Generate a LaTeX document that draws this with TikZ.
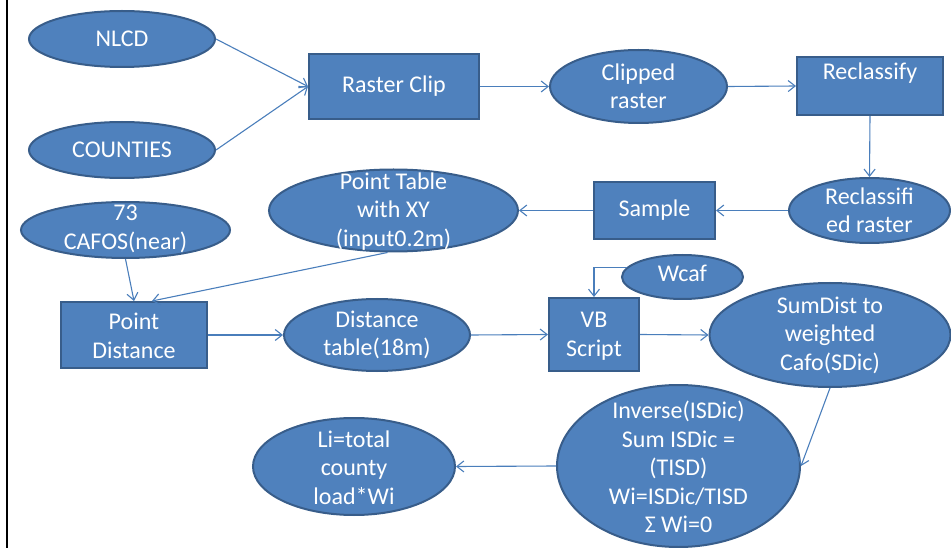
\documentclass[tikz,border=0pt]{standalone}
\usepackage{fontspec}
\setmainfont{Carlito}
\usetikzlibrary{arrows.meta,shapes.geometric}
\definecolor{boxfill}{HTML}{4F81BD}
\definecolor{boxline}{HTML}{385D8A}
\definecolor{arrowc}{HTML}{4A7EBB}
\begin{document}
\begin{tikzpicture}[x=1pt,y=-1pt,
  shp/.style={fill=boxfill,draw=boxline,line width=2pt,inner sep=0pt},
  ell/.style={shp,ellipse},
  box/.style={shp,rectangle},
  txt/.style={text=white,align=center,inner sep=0pt,font=\fontsize{24}{28.5}\selectfont},
  arr/.style={draw=arrowc,line width=1.1pt,-{Straight Barb[length=7pt,width=11pt]}}]
\useasboundingbox (0,0) rectangle (951,548);
\draw[line width=2.5pt] (7,0) -- (7,548);
% shapes
\node[ell,minimum width=186pt,minimum height=56pt] (nlcd) at (122,39) {};
\node[ell,minimum width=186pt,minimum height=56pt] (counties) at (122,150) {};
\node[box,minimum width=170pt,minimum height=65pt] (rclip) at (394,86.5) {};
\node[ell,minimum width=177pt,minimum height=73pt] (clipped) at (638.5,86.5) {};
\node[box,minimum width=146pt,minimum height=58pt] (reclass) at (870,86) {};
\node[ell,minimum width=161pt,minimum height=65pt] (reclassed) at (869.5,210.5) {};
\node[box,minimum width=121pt,minimum height=57pt] (sample) at (654.5,210.5) {};
\node[ell,minimum width=249pt,minimum height=82pt] (ptable) at (393.5,210.5) {};
\node[ell,minimum width=209pt,minimum height=56pt] (cafos) at (125.5,230) {};
\node[box,minimum width=146pt,minimum height=66pt] (pd) at (134,335) {};
\node[ell,minimum width=186pt,minimum height=72pt] (dtable) at (377,335) {};
\node[box,minimum width=90pt,minimum height=73pt] (vb) at (594,334.5) {};
\node[ell,minimum width=121pt,minimum height=44pt] (wcaf) at (682.5,277) {};
\node[ell,minimum width=241pt,minimum height=104pt] (sumdist) at (830,335) {};
\node[ell,minimum width=243pt,minimum height=162pt] (inverse) at (678.5,466) {};
\node[ell,minimum width=202pt,minimum height=97pt] (li) at (354,466.5) {};
% connectors
\draw[arr] (nlcd.east) -- (rclip.west);
\draw[arr] (counties.east) -- (rclip.west);
\draw[arr] (rclip.east) -- (clipped.west);
\draw[arr] (clipped.east) -- (reclass.west);
\draw[arr] (reclass.south) -- (reclassed.north);
\draw[arr] (reclassed.west) -- (sample.east);
\draw[arr] (sample.west) -- (ptable.east);
\draw[arr] ([xshift=-6pt]ptable.south) -- ([xshift=18pt]pd.north);
\draw[arr] (cafos.south) -- (pd.north);
\draw[arr] (pd.east) -- (dtable.west);
\draw[arr] (dtable.east) -- (vb.west);
\draw[arr] (wcaf.170) -| (vb.north);
\draw[arr] (vb.east) -- (sumdist.west);
\draw[arr] (sumdist.south) -- (inverse.east);
\draw[arr] (inverse.west) -- (li.east);
% texts
\node[txt] (nlcdt) at (nlcd) {NLCD};
\node[txt] (countiest) at (counties) {COUNTIES};
\node[txt] (rclipt) at (rclip) {Raster Clip};
\node[txt] (clippedt) at (clipped) {Clipped\\raster};
\node[txt] (reclasst) at (870,73) {Reclassify};
\node[txt] (reclassedt) at (reclassed) {Reclassifi\\ed raster};
\node[txt] (samplet) at (sample) {Sample};
\node[txt] (ptablet) at (393.5,211.5) {Point Table\\with XY\\(input0.2m)};
\node[txt] (cafost) at (125.5,229) {73\\CAFOS(near)};
\node[txt] (pdt) at (134,336) {Point\\Distance};
\node[txt] (dtablet) at (377,335) {Distance\\table(18m)};
\node[txt] (vbt) at (594,336) {VB\\Script};
\node[txt] (wcaft) at (682.5,273) {Wcaf};
\node[txt] (sumdistt) at (830,335) {SumDist to\\weighted\\Cafo(SDic)};
\node[txt] (inverset) at (678.5,467) {Inverse(ISDic)\\Sum ISDic =\\(TISD)\\Wi=ISDic/TISD\\Σ Wi=0};
\node[txt] (lit) at (354,467.5) {Li=total\\county\\load*Wi};
\end{tikzpicture}
\end{document}
